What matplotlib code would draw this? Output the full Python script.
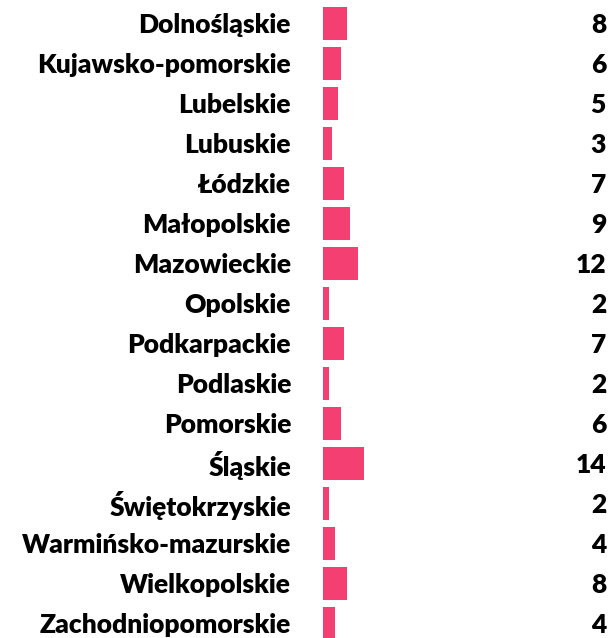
import matplotlib
matplotlib.use("Agg")
import matplotlib.pyplot as plt
import matplotlib.transforms as mtransforms

plt.rcParams['font.family'] = ['Lato', 'DejaVu Sans']

regions = ['Dolnośląskie', 'Kujawsko-pomorskie', 'Lubelskie', 'Lubuskie', 'Łódzkie',
           'Małopolskie', 'Mazowieckie', 'Opolskie', 'Podkarpackie', 'Podlaskie',
           'Pomorskie', 'Śląskie', 'Świętokrzyskie', 'Warmińsko-mazurskie',
           'Wielkopolskie', 'Zachodniopomorskie']
values = [8, 6, 5, 3, 7, 9, 12, 2, 7, 2, 6, 14, 2, 4, 8, 4]

bar_color = '#f43f73'

fig = plt.figure(figsize=(6.11, 6.38), dpi=100)
ax = fig.add_axes([0, 0, 1, 1])
ypos = list(range(len(regions)))
ax.barh(ypos, values, height=0.825, color=bar_color)

# oś x: zero przy ~323 px, ok. 2.95 px na jednostkę
ax.set_xlim(-323 / 2.95, (611 - 323) / 2.95)
ax.set_ylim((638 - 23.5) / 40, -23.5 / 40)
ax.axis('off')

trans = mtransforms.blended_transform_factory(ax.transAxes, ax.transData)
for y, name, v in zip(ypos, regions, values):
    ax.text(291 / 611, y + 0.04, name, transform=trans, ha='right', va='center',
            fontsize=19, fontweight='heavy', color='black')
    ax.text(606 / 611, y + 0.04, str(v), transform=trans, ha='right', va='center',
            fontsize=19, fontweight='heavy', color='black')

fig.savefig('out.png', dpi=100)
